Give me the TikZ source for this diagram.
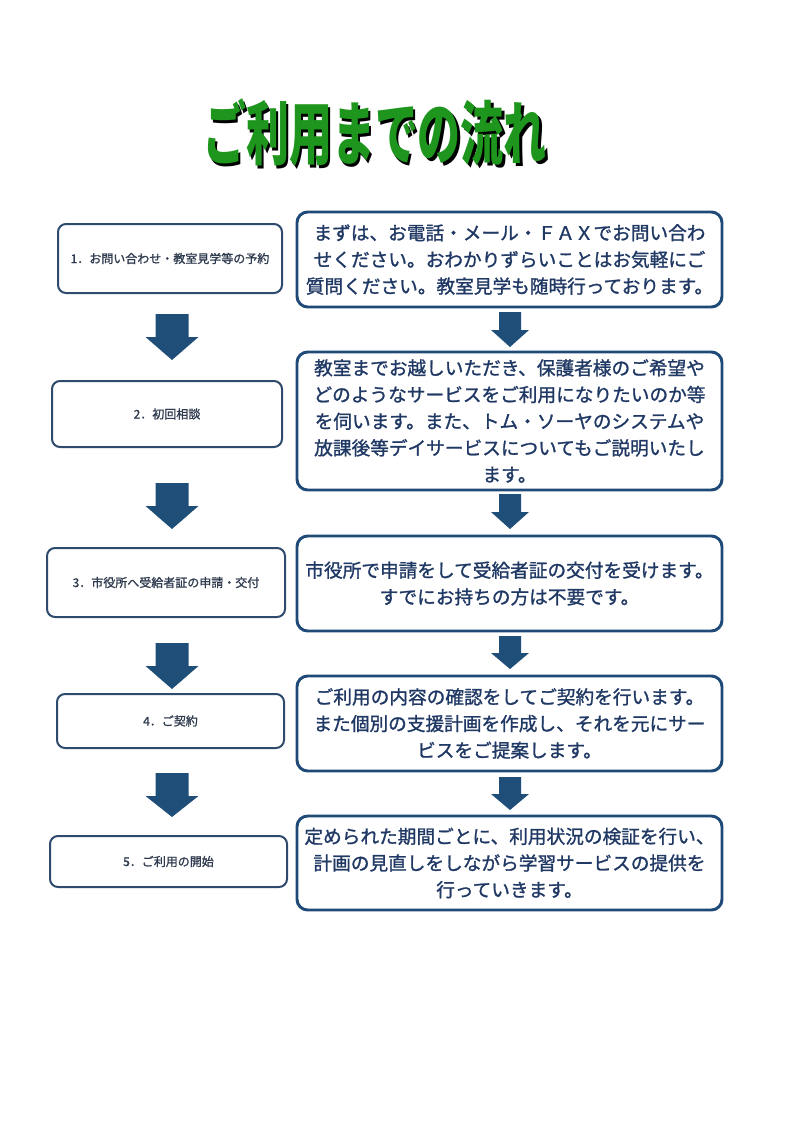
\documentclass[tikz,border=0pt]{standalone}
\usepackage{fontspec}
\newfontfamily\jpfont{Noto Sans CJK JP}
\newfontfamily\jpmedium{Noto Sans CJK JP}[FakeBold=1.2]
\definecolor{arrowblue}{HTML}{1F4E79}
\definecolor{rightline}{HTML}{1F4A78}
\definecolor{righttext}{HTML}{1F3864}
\definecolor{leftline}{HTML}{2E4A6C}
\definecolor{lefttext}{HTML}{2F3B4E}
\definecolor{titlegreen}{HTML}{1E961E}
\newcommand{\flowarrow}[6]{%
  \fill[arrowblue] ({#1-#4},#2) -- ({#1+#4},#2) -- ({#1+#4},#6) -- ({#1+#5},#6)
    -- (#1,#3) -- ({#1-#5},#6) -- ({#1-#4},#6) -- cycle;}
\newcommand{\shadowed}[1]{\makebox[0pt][l]{\hspace{2.5pt}\raisebox{-2.5pt}{\color{black}#1}}#1}

\begin{document}
\begin{tikzpicture}[x=0.75pt, y=-0.75pt,
    leftbox/.style={draw=leftline, line width=1.5pt, rounded corners=6pt, fill=white,
      text=lefttext, font=\jpmedium\fontsize{9}{11}\selectfont},
    rightbox/.style={draw=rightline, line width=2.2pt, rounded corners=8pt, fill=white,
      text=righttext, minimum width=318.75pt, inner xsep=0pt, text width=314pt, align=center,
      font=\jpmedium\fontsize{14}{20}\selectfont},
    titletext/.style={font=\jpfont\bfseries\fontsize{52}{52}\selectfont, xscale=0.62, transform shape}]
    \useasboundingbox (0, 0) rectangle (802, 1135);
    \fill[white] (0, 0) rectangle (802, 1135);

    \node[titletext, text=titlegreen] (title) at (375, 134) {\shadowed{ご利用までの流れ}};

    \node[leftbox, minimum width=168pt, minimum height=51.75pt] (l1) at (170, 258.5) {1．お問い合わせ・教室見学等の予約};
    \node[leftbox, minimum width=172.5pt, minimum height=49.5pt] (l2) at (167, 414) {2．初回相談};
    \node[leftbox, minimum width=178.5pt, minimum height=51.75pt] (l3) at (166, 582.5) {3．市役所へ受給者証の申請・交付};
    \node[leftbox, minimum width=170.25pt, minimum height=40.5pt] (l4) at (170.5, 721) {4．ご契約};
    \node[leftbox, minimum width=177.75pt, minimum height=38.25pt] (l5) at (168.5, 861.5) {5．ご利用の開始};

    \node[rightbox, minimum height=71.25pt] (r1) at (509.5, 259.5)
      {まずは、お電話・メール・ＦＡＸでお問い合わ\\せください。おわかりずらいことはお気軽にご\\質問ください。教室見学も随時行っております。};
    \node[rightbox, minimum height=103.5pt] (r2) at (509.5, 421)
      {教室までお越しいただき、保護者様のご希望や\\どのようなサービスをご利用になりたいのか等\\を伺います。また、トム・ソーヤのシステムや\\放課後等デイサービスについてもご説明いたし\\ます。};
    \node[rightbox, minimum height=71.25pt] (r3) at (509.5, 583.5)
      {市役所で申請をして受給者証の交付を受けます。\\すでにお持ちの方は不要です。};
    \node[rightbox, minimum height=71.25pt] (r4) at (509.5, 723.5)
      {ご利用の内容の確認をしてご契約を行います。\\また個別の支援計画を作成し、それを元にサー\\ビスをご提案します。};
    \node[rightbox, minimum height=70.5pt] (r5) at (509.5, 863)
      {定められた期間ごとに、利用状況の検証を行い、\\計画の見直しをしながら学習サービスの提供を\\行っていきます。};

    \flowarrow{172}{314}{360}{16.5}{26.5}{337}
    \flowarrow{172}{483}{529}{16.5}{26.5}{506}
    \flowarrow{172}{643}{689}{16.5}{26.5}{666}
    \flowarrow{172}{773}{817}{16.5}{26.5}{796}

    \flowarrow{510}{312}{347}{11}{19}{330}
    \flowarrow{510}{494}{529}{11}{19}{512}
    \flowarrow{510}{636}{669}{11}{19}{653}
    \flowarrow{510}{777}{810}{11}{19}{794}
\end{tikzpicture}
\end{document}
